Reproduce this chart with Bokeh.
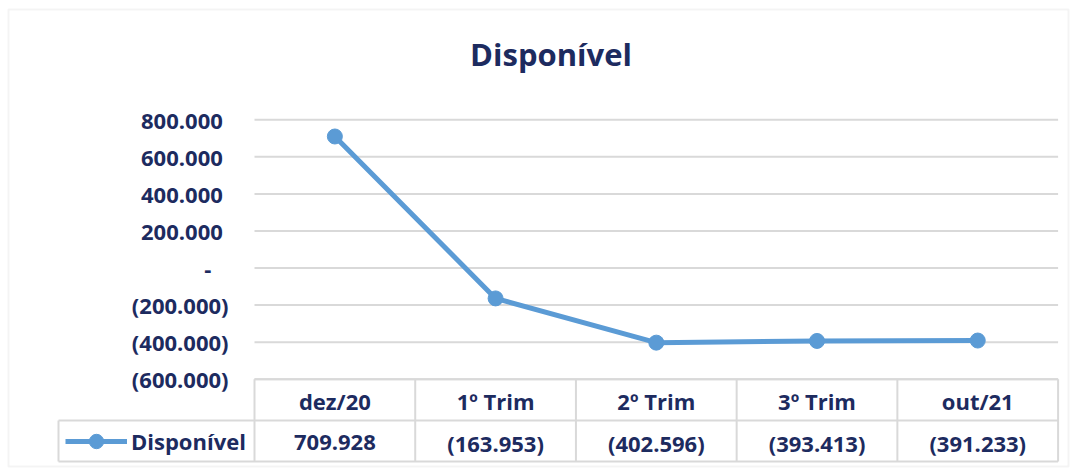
from bokeh.plotting import figure
from bokeh.models import Range1d, Legend, LegendItem, BoxAnnotation, Label
from bokeh.core.properties import value
from bokeh.embed import file_html
from bokeh.resources import INLINE

# ---- data ----
categories = ["dez/20", "1º Trim", "2º Trim", "3º Trim", "out/21"]
disponivel = [709928, -163953, -402596, -393413, -391233]
y_ticks = [-600000, -400000, -200000, 0, 200000, 400000, 600000, 800000]
y_tick_labels = ["(600.000)", "(400.000)", "(200.000)", "-", "200.000", "400.000", "600.000", "800.000"]
series_name = "Disponível"
title_text = "Disponível"

NAVY = "#1D2B5F"
BLUE = "#5B9BD5"
GRID = "#D9D9D9"
FONT = "Open Sans"


def fmt(v):
    s = f"{abs(v):,}".replace(",", ".")
    return f"({s})" if v < 0 else s


# ---- layout: canvas pixels -> data coordinates ----
W, H = 1070, 468
PX_PER_X = 160.72          # one category column
PX_X0 = 254.0              # left edge of first column (x = -0.5)
PX_PER_Y = 185.3 / 1e6
Y_REF, PY_REF = 800000, 119.3


def px_x(px):
    return -0.5 + (px - PX_X0) / PX_PER_X


def px_y(py):
    return Y_REF - (py - PY_REF) / PX_PER_Y


p = figure(width=W, height=H,
           x_range=Range1d(px_x(0), px_x(W)), y_range=Range1d(px_y(H), px_y(0)),
           output_backend="svg", toolbar_location=None,
           x_axis_location=None, y_axis_location=None,
           min_border=0)
p.outline_line_color = None
p.background_fill_color = "white"
p.border_fill_color = "white"
p.xgrid.visible = False
p.ygrid.visible = False

n = len(categories)
idx = list(range(n))
x_left, x_right = -0.5, n - 0.5

# outer chart border
p.add_layout(BoxAnnotation(left=px_x(8), right=px_x(1068), top=px_y(9), bottom=px_y(466),
                           fill_color=None, line_color=GRID, line_width=2))

# title
p.add_layout(Label(x=px_x(550.5), y=px_y(53), text=title_text,
                   text_align="center", text_baseline="alphabetic",
                   text_font=FONT, text_font_style="bold", text_font_size="31px",
                   text_color=NAVY))

# horizontal gridlines
p.segment(x0=[x_left] * len(y_ticks), x1=[x_right] * len(y_ticks), y0=y_ticks, y1=y_ticks,
          line_color=GRID, line_width=2)

# y tick labels (accounting format alignment)
lab_txt = []
for t, lab in zip(y_ticks, y_tick_labels):
    if t > 0:
        lab = lab + "\u00a0"
    elif t == 0:
        lab = lab + "\u00a0\u00a0\u00a0"
    lab_txt.append(lab)
p.text(x=[px_x(228)] * len(y_ticks), y=y_ticks, text=lab_txt,
       text_font=value(FONT), text_font_style="bold", text_font_size="22px",
       text_color=NAVY, text_align="right", text_baseline="middle")

# data table
TBL_TOP = y_ticks[0]
TBL_MID = px_y(420)
TBL_BOT = px_y(461)
p.segment(x0=[x_left, px_x(58), px_x(58)], x1=[x_right] * 3,
          y0=[TBL_TOP, TBL_MID, TBL_BOT], y1=[TBL_TOP, TBL_MID, TBL_BOT],
          line_color=GRID, line_width=2)
v_x = [i - 0.5 for i in range(n + 1)]
p.segment(x0=v_x, x1=v_x, y0=[TBL_TOP] * len(v_x), y1=[TBL_BOT] * len(v_x),
          line_color=GRID, line_width=2)
p.segment(x0=[px_x(58)], x1=[px_x(58)], y0=[TBL_MID], y1=[TBL_BOT],
          line_color=GRID, line_width=2)
p.text(x=idx, y=[px_y(400)] * n, text=categories,
       text_font=value(FONT), text_font_style="bold", text_font_size="22px",
       text_color=NAVY, text_align="center", text_baseline="middle")
p.text(x=idx, y=[px_y(442)] * n, text=[fmt(v) for v in disponivel],
       text_font=value(FONT), text_font_style="bold", text_font_size="22px",
       text_color=NAVY, text_align="center", text_baseline="middle")

# series
line_r = p.line(idx, disponivel, line_color=BLUE, line_width=5)
scat_r = p.scatter(idx, disponivel, size=15, fill_color=BLUE, line_color=BLUE)

legend = Legend(items=[LegendItem(label=series_name, renderers=[line_r, scat_r])],
                location=(65, H - 459), margin=0, padding=0,
                glyph_width=62, glyph_height=36, label_height=36, label_standoff=4,
                label_text_font=FONT, label_text_font_style="bold",
                label_text_font_size="22px", label_text_color=NAVY,
                background_fill_alpha=0, border_line_color=None)
p.add_layout(legend)

open("out.html", "w").write(file_html(p, INLINE))
